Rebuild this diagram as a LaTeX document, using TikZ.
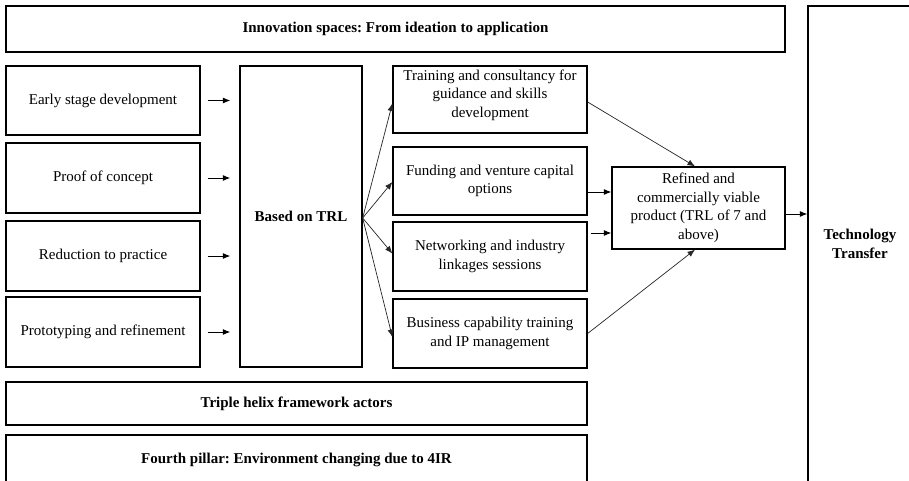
\documentclass[tikz,border=0pt]{standalone}
\usepackage{fontspec}
\setmainfont{Liberation Serif}
\frenchspacing
\usetikzlibrary{arrows.meta,calc}
\begin{document}
\begin{tikzpicture}[x=1pt,y=-1pt,
  box/.style={draw=black,line width=1.3pt,rectangle,align=center,inner sep=2pt,
    font=\fontsize{15}{18.5}\selectfont},
  bbox/.style={box,font=\fontsize{15}{18.5}\selectfont\bfseries},
  arr/.style={-{Latex[length=7.5pt,width=6pt]},line width=1pt},
  thin/.style={-{Latex[length=7.5pt,width=6pt]},line width=0.7pt,draw=black!85}]
\useasboundingbox (0,0) rectangle (909,481);
\clip (0,0) rectangle (909,481);
\fill[white] (0,0) rectangle (909,481);
% top and bottom bands
\node[bbox,minimum width=779,minimum height=46] (top) at (395.5,29) {Innovation spaces: From ideation to application};
\node[bbox,minimum width=581,minimum height=43] (helix) at (296.5,403.5) {Triple helix framework actors};
\node[bbox,minimum width=581,minimum height=50] (pillar) at (296.5,460) {Fourth pillar: Environment changing due to 4IR};
\node[bbox,minimum width=104,minimum height=476] (tt) at (860,244) {Technology\\Transfer};
% left column
\node[box,minimum width=194,minimum height=69] (e1) at (103,100.5) {Early stage development};
\node[box,minimum width=194,minimum height=70] (e2) at (103,178) {Proof of concept};
\node[box,minimum width=194,minimum height=70] (e3) at (103,256) {Reduction to practice};
\node[box,minimum width=194,minimum height=70] (e4) at (103,332) {Prototyping and refinement};
% TRL
\node[bbox,minimum width=122,minimum height=301] (trl) at (301,216.5) {Based on TRL};
% middle column
\node[box,minimum width=194,minimum height=67] (ma) at (490,99.5) {Training and consultancy for\\guidance and skills\\development\\[-6.5pt]\mbox{}};
\node[box,minimum width=194,minimum height=68] (mb) at (490,181) {Funding and venture capital\\options};
\node[box,minimum width=194,minimum height=69] (mc) at (490,256.5) {Networking and industry\\linkages sessions};
\node[box,minimum width=194,minimum height=69] (md) at (490,333.5) {Business capability training\\and IP management};
% refined
\node[box,minimum width=173,minimum height=82] (ref) at (698.5,208) {Refined and\\commercially viable\\product (TRL of 7 and\\above)};
% left arrows
\foreach \n in {e1,e2,e3,e4}
  \draw[arr,shorten <=7pt,shorten >=9pt] (\n.east) -- (\n.east -| trl.west);
% fan
\draw[thin] ([yshift=-1.5pt]trl.east) -- ([yshift=-4pt]ma.west);
\draw[thin] ([yshift=-1.5pt]trl.east) -- ([yshift=-1pt]mb.west);
\draw[thin] ([yshift=-1.5pt]trl.east) -- ([yshift=3pt]mc.west);
\draw[thin] ([yshift=-1.5pt]trl.east) -- ([yshift=-3.5pt]md.west);
% to refined
\draw[thin] ([yshift=-2.5pt]ma.east) -- ([xshift=-3.5pt]ref.north);
\draw[arr] ([yshift=-11pt]mb.east) -- ([yshift=-11pt]mb.east -| ref.west);
\draw[arr,shorten <=3pt] ([yshift=23.5pt]mc.east) -- ([yshift=23.5pt]mc.east -| ref.west);
\draw[thin] (md.east) -- ([xshift=-3.5pt]ref.south);
% to TT
\draw[arr] ([yshift=-6pt]ref.east) -- ([yshift=-6pt]ref.east -| tt.west);
\end{tikzpicture}
\end{document}
